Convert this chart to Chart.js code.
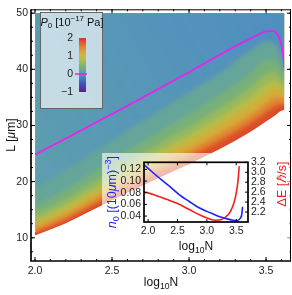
<!DOCTYPE html>
<html>
<head>
<meta charset="utf-8">
<script src="https://cdn.jsdelivr.net/npm/chart.js@4.4.0/dist/chart.umd.min.js"></script>
<style>
  html, body { margin: 0; padding: 0; background: #fff; }
  #wrap { position: relative; width: 292px; height: 295px; }
  #main { position: absolute; left: 0; top: 0; }
  #inset { position: absolute; left: 102px; top: 153px; }
</style>
</head>
<body>
<div id="wrap">
  <canvas id="main" width="292" height="295"></canvas>
  <canvas id="inset" width="188" height="103"></canvas>
</div>
<script>
const logN = [2.0, 2.2, 2.4, 2.6, 2.8, 3.0, 3.2, 3.4, 3.5, 3.56, 3.6, 3.627];
const fieldTop = 50;
const L_p010 = [18.9, 22.0, 25.5, 29.1, 32.5, 35.9, 39.4, 43.4, 45.0, 44.6, 42.3, 39.5];
const L_p030 = [15.6, 18.6, 22.0, 25.5, 28.8, 32.1, 35.5, 39.4, 41.8, 41.8, 40.0, 38.6];
const L_p050 = [14.0, 16.8, 20.2, 23.5, 26.7, 29.8, 33.2, 36.9, 39.2, 39.6, 38.2, 37.3];
const L_p075 = [13.1, 15.8, 19.0, 22.2, 25.3, 28.3, 31.5, 35.1, 37.3, 38.0, 37.0, 36.4];
const L_p100 = [12.4, 15.0, 18.1, 21.2, 24.2, 27.1, 30.2, 33.7, 35.8, 36.7, 36.0, 35.4];
const L_p130 = [11.7, 14.1, 17.1, 20.0, 22.9, 25.6, 28.6, 31.9, 33.9, 35.0, 34.8, 34.4];
const L_p165 = [11.0, 13.3, 16.2, 19.0, 21.8, 24.4, 27.3, 30.5, 32.4, 33.5, 33.8, 33.6];
const L_p200 = [10.4, 12.6, 15.3, 18.0, 20.6, 23.1, 25.8, 28.9, 30.7, 31.8, 32.6, 32.7];
const levels = [0, 0.1, 0.3, 0.5, 0.75, 1.0, 1.3, 1.65, 2.0];

// P0 = 0 line (magenta)
const zeroLogN = [2.0, 2.1, 2.2, 2.3, 2.4, 2.5, 2.6, 2.7, 2.8, 2.9, 3.0, 3.1, 3.2, 3.3, 3.4, 3.45, 3.5, 3.55, 3.575, 3.59, 3.605, 3.615, 3.622];
const zeroL = [24.8, 26.25, 27.7, 29.15, 30.6, 32.05, 33.5, 35.0, 36.5, 38.0, 39.5, 41.05, 42.6, 44.1, 45.5, 46.2, 46.75, 46.8, 46.2, 45.3, 43.6, 41.6, 39.7];

const xTicks = [2.0, 2.5, 3.0, 3.5];
const yTicks = [10, 20, 30, 40, 50];
const cbTicks = [2, 1, 0, -1];

// ---- inset ----
const n0LogN = [1.93, 2.1, 2.24, 2.4, 2.545, 2.7, 2.835, 3.0, 3.107, 3.22, 3.346, 3.45, 3.52, 3.567, 3.59, 3.6, 3.607];
const n0 = [0.128, 0.113, 0.101, 0.088, 0.0755, 0.065, 0.056, 0.048, 0.0435, 0.039, 0.0352, 0.0328, 0.0325, 0.036, 0.041, 0.048, 0.056];
const dELogN = [1.93, 2.1, 2.3, 2.5, 2.7, 2.9, 3.05, 3.15, 3.25, 3.33, 3.4, 3.46, 3.5, 3.53, 3.55];
const dE = [2.61, 2.55, 2.46, 2.37, 2.25, 2.13, 2.06, 2.035, 2.05, 2.11, 2.21, 2.38, 2.58, 2.83, 3.12];
const insetXTicks = [2.0, 2.5, 3.0, 3.5];
const n0Ticks = [0.04, 0.06, 0.08, 0.10, 0.12];
const dETicks = [2.2, 2.4, 2.6, 2.8, 3.0, 3.2];

// colour map (P0 value -> colour), Mathematica-rainbow-ish
const cmapStops = [[-1, '#5e1f8a'], [-0.5, '#4258c4'], [-0.1, '#4e8dc2'], [0, '#5a9bb4'], [0.2, '#66a59a'],
  [0.4, '#78b07a'], [0.6, '#93b862'], [0.8, '#b1bd4c'], [1.0, '#c8bb40'], [1.2, '#d7a838'],
  [1.45, '#e08a30'], [1.7, '#e0622b'], [2.0, '#d43527']];

const FONT = '"Liberation Sans", Arial, sans-serif';

function hexRgb(h) {
  return [parseInt(h.slice(1, 3), 16), parseInt(h.slice(3, 5), 16), parseInt(h.slice(5, 7), 16)];
}
function cmap(v) {
  if (v <= cmapStops[0][0]) return cmapStops[0][1];
  for (let i = 1; i < cmapStops.length; i++) {
    if (v <= cmapStops[i][0]) {
      const [v0, c0] = cmapStops[i - 1], [v1, c1] = cmapStops[i];
      const t = (v - v0) / (v1 - v0);
      const a = hexRgb(c0), b = hexRgb(c1);
      return 'rgb(' + a.map((k, j) => Math.round(k + (b[j] - k) * t)).join(',') + ')';
    }
  }
  return cmapStops[cmapStops.length - 1][1];
}

// text with italics / sub / superscripts
function richText(ctx, parts, cx, cy, size, color, rot) {
  ctx.save();
  ctx.translate(cx, cy);
  if (rot) ctx.rotate(rot);
  ctx.fillStyle = color;
  ctx.textBaseline = 'middle';
  ctx.textAlign = 'left';
  const fontFor = p => (p.i ? 'italic ' : '') + ((p.sub || p.sup) ? size * 0.72 : size) + 'px ' + FONT;
  let w = 0;
  parts.forEach(p => { ctx.font = fontFor(p); p.w = ctx.measureText(p.t).width; w += p.w; });
  let x = -w / 2;
  parts.forEach(p => {
    ctx.font = fontFor(p);
    const dy = p.sub ? size * 0.28 : p.sup ? -size * 0.38 : 0;
    ctx.fillText(p.t, x, dy);
    x += p.w;
  });
  ctx.restore();
}

function inwardTicks(ctx, scale, values, area, len, horizontal) {
  values.forEach(v => {
    const p = scale.getPixelForValue(v);
    ctx.beginPath();
    if (horizontal) {
      ctx.moveTo(p, area.bottom); ctx.lineTo(p, area.bottom - len);
      ctx.moveTo(p, area.top); ctx.lineTo(p, area.top + len);
    } else {
      ctx.moveTo(area.left, p); ctx.lineTo(area.left + len, p);
      ctx.moveTo(area.right, p); ctx.lineTo(area.right - len, p);
    }
    ctx.stroke();
  });
}

// ---------------- main chart ----------------
// each contour fills upward to the top; lower contours are painted over higher ones
const levelLines = [L_p010, L_p030, L_p050, L_p075, L_p100, L_p130, L_p165, L_p200];

const topBand = (c) => {
  const ch = c.chart;
  if (!ch.chartArea) return cmap(0);
  const xs = ch.scales.x, ys = ch.scales.y;
  const g = ch.ctx.createLinearGradient(xs.getPixelForValue(2.0), ys.getPixelForValue(25),
    xs.getPixelForValue(3.62), ys.getPixelForValue(50));
  g.addColorStop(0, cmap(0.03));
  g.addColorStop(1, cmap(-0.09));
  return g;
};

const fieldSets = levelLines.map((arr, k) => ({
  data: logN.map((x, j) => ({ x, y: arr[j] })),
  pointRadius: 0,
  borderWidth: 0,
  backgroundColor: k === 0 ? topBand : cmap((levels[k] + levels[k + 1]) / 2),
  fill: 'end',
  cubicInterpolationMode: 'monotone'
}));
const boundaryIndex = fieldSets.length - 1;

// sharp (unblurred) red rim under the blurred field, keeps the lower edge crisp
const rimIndex = fieldSets.length;
fieldSets.push({
  data: logN.map((x, j) => ({ x, y: L_p165[j] })),
  pointRadius: 0,
  borderWidth: 0,
  backgroundColor: cmap(1.9),
  fill: { target: boundaryIndex },
  cubicInterpolationMode: 'monotone'
});

const magentaIndex = fieldSets.length;
fieldSets.push({
  data: zeroLogN.map((x, j) => ({ x, y: zeroL[j] })),
  pointRadius: 0,
  borderWidth: 1.7,
  borderColor: '#ee1eee',
  fill: false,
  order: -1,
  cubicInterpolationMode: 'monotone'
});

// soften the contour bands into a smooth field, clipped to the region above the P0=2 boundary
const fieldBlur = {
  id: 'fieldBlur',
  beforeDatasetsDraw(chart) {
    const ctx = chart.ctx, xs = chart.scales.x, ys = chart.scales.y;
    const x0 = xs.getPixelForValue(logN[0]);
    const x1 = xs.getPixelForValue(logN[logN.length - 1]) - 1.5;
    const y0 = ys.getPixelForValue(fieldTop);
    ctx.save();
    ctx.beginPath();
    ctx.rect(x0, y0, x1 - x0, chart.chartArea.bottom - y0);
    ctx.clip();
    const line = chart.getDatasetMeta(boundaryIndex).dataset;
    line.updateControlPoints(chart.chartArea, 'x');
    const pts = line.points;
    ctx.beginPath();
    line.path(ctx);
    ctx.lineTo(pts[pts.length - 1].x + 4, pts[pts.length - 1].y);
    ctx.lineTo(pts[pts.length - 1].x + 4, chart.chartArea.top);
    ctx.lineTo(pts[0].x - 4, chart.chartArea.top);
    ctx.lineTo(pts[0].x - 4, pts[0].y);
    ctx.closePath();
    ctx.clip();
    ctx.filter = 'none';           // the rim is drawn first
  },
  afterDatasetDraw(chart, args) {
    if (args.index === rimIndex) chart.ctx.filter = 'blur(2px)';
    if (args.index === 0) chart.ctx.filter = 'none';   // magenta comes next
  },
  afterDatasetsDraw(chart) {
    chart.ctx.restore();
  }
};

const mainDecor = {
  id: 'mainDecor',
  afterDraw(chart) {
    const ctx = chart.ctx, a = chart.chartArea;
    const xs = chart.scales.x, ys = chart.scales.y;
    ctx.save();
    ctx.filter = 'none';
    // frame
    ctx.strokeStyle = '#000';
    ctx.lineWidth = 1;
    ctx.beginPath();
    ctx.moveTo(a.left, a.top + 0.5); ctx.lineTo(a.right, a.top + 0.5);
    ctx.moveTo(a.right - 0.5, a.top); ctx.lineTo(a.right - 0.5, a.bottom);
    ctx.stroke();
    ctx.lineWidth = 1.7;
    ctx.beginPath();
    ctx.moveTo(a.left, a.top); ctx.lineTo(a.left, a.bottom);
    ctx.lineTo(a.right, a.bottom);
    ctx.stroke();
    // ticks
    ctx.lineWidth = 1;
    inwardTicks(ctx, xs, xTicks, a, 4, true);
    const minorX = [];
    for (let v = 2.0; v <= 3.66; v += 0.1) minorX.push(v);
    inwardTicks(ctx, xs, minorX, a, 2, true);
    inwardTicks(ctx, ys, yTicks, a, 4, false);
    const minorY = [];
    for (let v = 7.5; v <= 50.5; v += 2.5) minorY.push(v);
    inwardTicks(ctx, ys, minorY, a, 2, false);

    // colour bar legend
    ctx.fillStyle = 'rgba(255,255,255,0.65)';
    ctx.fillRect(40, 12, 62, 96);
    ctx.strokeStyle = '#666';
    ctx.lineWidth = 1;
    ctx.strokeRect(40.5, 12.5, 62, 96);
    const cbTop = 38, cbBot = 92, cbMin = -1, cbMax = 2;
    const g = ctx.createLinearGradient(0, cbBot, 0, cbTop);
    cmapStops.forEach(([v, c]) => g.addColorStop((v - cbMin) / (cbMax - cbMin), c));
    ctx.fillStyle = g;
    ctx.fillRect(79, cbTop, 7, cbBot - cbTop);
    ctx.fillStyle = '#222';
    ctx.font = '10.5px ' + FONT;
    ctx.textAlign = 'right';
    ctx.textBaseline = 'middle';
    cbTicks.forEach(v => {
      const y = cbBot - (v - cbMin) / (cbMax - cbMin) * (cbBot - cbTop);
      ctx.fillText(v < 0 ? '\u2212' + Math.abs(v) : String(v), 73, y);
    });
    const y0 = cbBot - (0 - cbMin) / (cbMax - cbMin) * (cbBot - cbTop);
    ctx.strokeStyle = '#ee1eee';
    ctx.lineWidth = 1.5;
    ctx.beginPath(); ctx.moveTo(75, y0); ctx.lineTo(87, y0); ctx.stroke();
    richText(ctx, [{ t: 'P', i: true }, { t: '0', sub: true }, { t: ' [10' }, { t: '\u221217', sup: true }, { t: ' Pa]' }],
      72, 23, 11, '#111');

    // axis titles
    richText(ctx, [{ t: 'L [' }, { t: '\u03bc', i: true }, { t: 'm]' }], 12, (a.top + a.bottom) / 2, 12, '#111', -Math.PI / 2);
    richText(ctx, [{ t: 'log' }, { t: '10', sub: true }, { t: 'N' }], (a.left + a.right) / 2, 283, 12, '#111');
    ctx.restore();
  }
};

new Chart(document.getElementById('main'), {
  type: 'line',
  data: { datasets: fieldSets },
  options: {
    responsive: false,
    animation: false,
    devicePixelRatio: 1,
    layout: { padding: { top: 1, right: 1, left: 0, bottom: 0 } },
    plugins: { legend: { display: false }, tooltip: { enabled: false } },
    scales: {
      x: {
        type: 'linear', min: 1.974, max: 3.662,
        afterBuildTicks: s => { s.ticks = xTicks.map(v => ({ value: v })); },
        afterFit: s => { s.height = 34; },
        grid: { display: false, drawTicks: false },
        border: { display: false },
        ticks: { callback: v => v.toFixed(1), color: '#222', font: { family: FONT, size: 10.5 }, padding: 4, maxRotation: 0, autoSkip: false }
      },
      y: {
        type: 'linear', min: 5.862, max: 50.69,
        afterBuildTicks: s => { s.ticks = yTicks.map(v => ({ value: v })); },
        afterFit: s => { s.width = 31; },
        grid: { display: false, drawTicks: false },
        border: { display: false },
        ticks: { callback: v => String(v), color: '#222', font: { family: FONT, size: 10.5 }, padding: 3, autoSkip: false }
      }
    }
  },
  plugins: [fieldBlur, mainDecor]
});

// ---------------- inset chart ----------------
const insetDecor = {
  id: 'insetDecor',
  beforeDraw(chart) {
    const ctx = chart.ctx;
    ctx.save();
    ctx.fillStyle = 'rgba(255,255,255,0.62)';
    ctx.fillRect(0, 0, chart.width, chart.height);
    ctx.restore();
  },
  afterDraw(chart) {
    const ctx = chart.ctx, a = chart.chartArea;
    ctx.save();
    ctx.strokeStyle = '#000';
    ctx.lineWidth = 1;
    inwardTicks(ctx, chart.scales.x, insetXTicks, a, 3, true);
    n0Ticks.forEach(v => {
      const p = chart.scales.yL.getPixelForValue(v);
      ctx.beginPath(); ctx.moveTo(a.left, p); ctx.lineTo(a.left + 3, p); ctx.stroke();
    });
    dETicks.forEach(v => {
      const p = chart.scales.yR.getPixelForValue(v);
      ctx.beginPath(); ctx.moveTo(a.right, p); ctx.lineTo(a.right - 3, p); ctx.stroke();
    });
    ctx.lineWidth = 1.7;
    ctx.strokeRect(a.left, a.top, a.right - a.left, a.bottom - a.top);
    richText(ctx, [{ t: 'n', i: true }, { t: '0', sub: true }, { t: ' [(10' }, { t: '\u03bc', i: true }, { t: 'm)' }, { t: '\u22123', sup: true }, { t: ']' }],
      11, (a.top + a.bottom) / 2, 12.5, '#2020ff', -Math.PI / 2);
    richText(ctx, [{ t: '\u0394E [' }, { t: '\u210f', i: true }, { t: '/s]' }],
      181, 31, 12.5, '#f02020', -Math.PI / 2);
    richText(ctx, [{ t: 'log' }, { t: '10', sub: true }, { t: 'N' }], (a.left + a.right) / 2, 94, 12, '#111');
    ctx.restore();
  }
};

new Chart(document.getElementById('inset'), {
  type: 'line',
  data: {
    datasets: [
      {
        data: n0LogN.map((x, j) => ({ x, y: n0[j] })),
        yAxisID: 'yL', borderColor: '#2020ff', borderWidth: 1.6, pointRadius: 0, fill: false,
        cubicInterpolationMode: 'monotone'
      },
      {
        data: dELogN.map((x, j) => ({ x, y: dE[j] })),
        yAxisID: 'yR', borderColor: '#f02020', borderWidth: 1.6, pointRadius: 0, fill: false,
        cubicInterpolationMode: 'monotone'
      }
    ]
  },
  options: {
    responsive: false,
    animation: false,
    devicePixelRatio: 1,
    layout: { padding: { top: 4, right: 0, left: 0, bottom: 0 } },
    plugins: { legend: { display: false }, tooltip: { enabled: false } },
    scales: {
      x: {
        type: 'linear', min: 1.93, max: 3.70,
        afterBuildTicks: s => { s.ticks = insetXTicks.map(v => ({ value: v })); },
        afterFit: s => { s.height = 34; },
        grid: { display: false, drawTicks: false },
        border: { display: false },
        ticks: { callback: v => v.toFixed(1), color: '#222', font: { family: FONT, size: 10.5 }, padding: 3, maxRotation: 0, autoSkip: false }
      },
      yL: {
        type: 'linear', position: 'left', min: 0.0298, max: 0.1322,
        afterBuildTicks: s => { s.ticks = n0Ticks.map(v => ({ value: v })); },
        afterFit: s => { s.width = 42; },
        grid: { display: false, drawTicks: false },
        border: { display: false },
        ticks: { callback: v => v.toFixed(2), color: '#222', font: { family: FONT, size: 10.5 }, padding: 3, autoSkip: false }
      },
      yR: {
        type: 'linear', position: 'right', min: 2.0, max: 3.2,
        afterBuildTicks: s => { s.ticks = dETicks.map(v => ({ value: v })); },
        afterFit: s => { s.width = 42; },
        grid: { display: false, drawTicks: false },
        border: { display: false },
        ticks: { callback: v => v.toFixed(1), color: '#222', font: { family: FONT, size: 10.5 }, padding: 3, autoSkip: false }
      }
    }
  },
  plugins: [insetDecor]
});
</script>
</body>
</html>
